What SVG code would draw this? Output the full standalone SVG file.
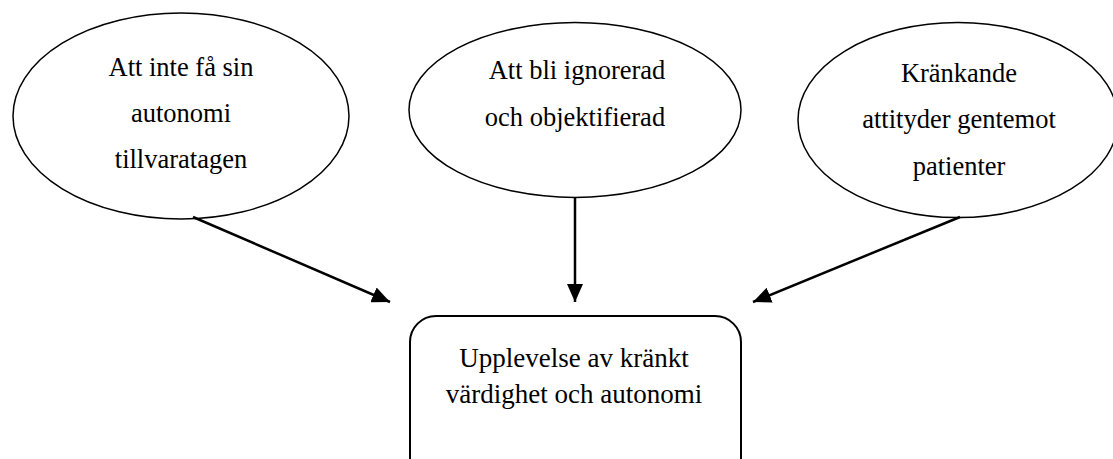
<svg xmlns="http://www.w3.org/2000/svg" width="1113" height="459" viewBox="0 0 1113 459">
<style>
.node{fill:#fff;stroke:#000;stroke-width:1.5}
.box{fill:#fff;stroke:#000;stroke-width:2}
.lbl{font-family:"Liberation Serif","Times New Roman",serif;font-size:26.5px;fill:#000;text-anchor:middle}
.lbl2{font-family:"Liberation Serif","Times New Roman",serif;font-size:27px;fill:#000;text-anchor:middle}
.edge{stroke:#000;stroke-width:2.5;fill:none}
</style>
<defs>
<marker id="ah" markerUnits="userSpaceOnUse" markerWidth="20" markerHeight="16" refX="18" refY="8" orient="auto">
<path d="M0,0 L18,8 L0,16 Z" fill="#000"/>
</marker>
</defs>
<g id="n1">
<ellipse class="node" cx="181" cy="116" rx="168" ry="103"/>
<text class="lbl" x="181" y="76">Att inte få sin</text>
<text class="lbl" x="181" y="122">autonomi</text>
<text class="lbl" x="181" y="168">tillvaratagen</text>
</g>
<g id="n2">
<ellipse class="node" cx="575" cy="110" rx="166" ry="87.5"/>
<text class="lbl" x="577" y="79">Att bli ignorerad</text>
<text class="lbl" x="575" y="126">och objektifierad</text>
</g>
<g id="n3">
<ellipse class="node" cx="958" cy="120" rx="160" ry="97.5"/>
<text class="lbl" x="959" y="82">Kränkande</text>
<text class="lbl" x="959" y="128">attityder gentemot</text>
<text class="lbl" x="959" y="175">patienter</text>
</g>
<g id="n4">
<rect class="box" x="410" y="316" width="331" height="170" rx="26" ry="26"/>
<text class="lbl2" x="574" y="367">Upplevelse av kränkt</text>
<text class="lbl2" x="574" y="403">värdighet och autonomi</text>
</g>
<g id="edges">
<line class="edge" x1="193" y1="217" x2="390" y2="302" marker-end="url(#ah)"/>
<line class="edge" x1="575" y1="197" x2="575" y2="302" marker-end="url(#ah)"/>
<line class="edge" x1="960" y1="217" x2="753" y2="302" marker-end="url(#ah)"/>
</g>
</svg>
